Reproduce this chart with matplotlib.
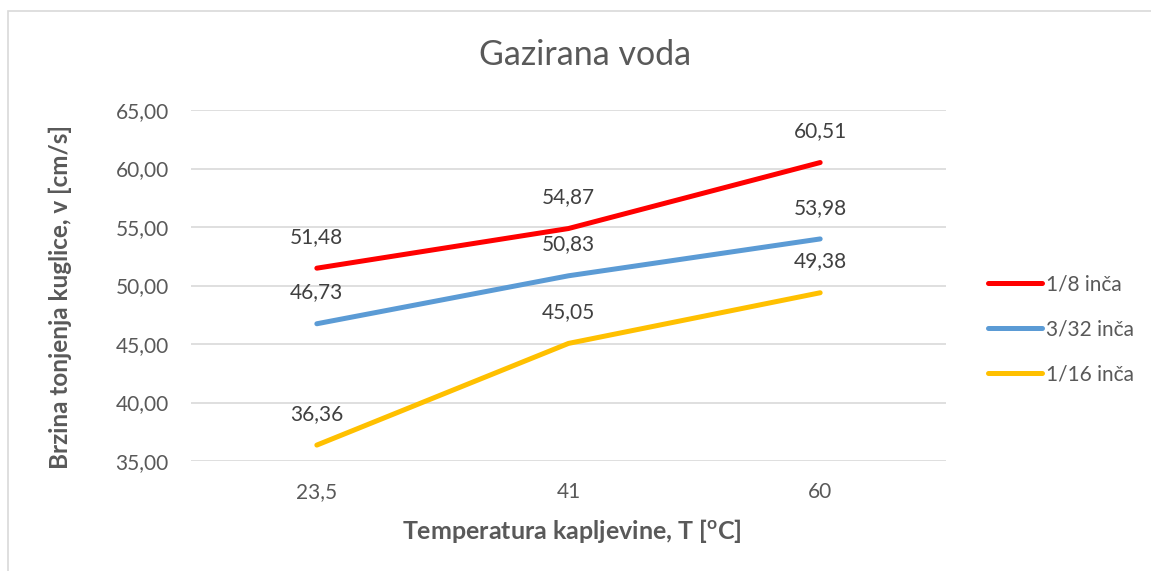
import matplotlib.pyplot as plt
from matplotlib.patches import Rectangle

# podaci s grafa
temperature = ["23,5", "41", "60"]
v_18 = [51.48, 54.87, 60.51]
v_332 = [46.73, 50.83, 53.98]
v_116 = [36.36, 45.05, 49.38]
serije = ["1/8 inča", "3/32 inča", "1/16 inča"]
boje = ["#FF0000", "#5B9BD5", "#FFC000"]
y_ticks = [35, 40, 45, 50, 55, 60, 65]

plt.rcParams['font.family'] = ['Lato', 'DejaVu Sans']
siva = "#595959"

fig = plt.figure(figsize=(11.51, 5.71), dpi=100)
# okvir grafa
fig.patches.append(Rectangle((8 / 1151, -0.05), 1.1, (571 - 11) / 571 + 0.05,
                             transform=fig.transFigure, fill=False,
                             edgecolor="#D9D9D9", linewidth=1.2))

ax = fig.add_axes([191 / 1151, 110 / 571, 755 / 1151, 351 / 571])
x = range(len(temperature))
for vals, name, c in zip([v_18, v_332, v_116], serije, boje):
    ax.plot(x, vals, color=c, linewidth=3.6, solid_capstyle='round', label=name, zorder=3)
    for xi, v in zip(x, vals):
        ax.annotate(f"{v:.2f}".replace('.', ','), (xi, v), xytext=(0, 22.5),
                    textcoords='offset points', ha='center', va='center',
                    fontsize=15, color="#404040")

ax.set_xlim(-0.5, 2.5)
ax.set_ylim(35, 65)
ax.set_xticks(list(x))
ax.set_xticklabels(temperature)
ax.set_yticks(y_ticks)
ax.set_yticklabels([f"{t:.2f}".replace('.', ',') for t in y_ticks])
ax.tick_params(length=0, labelsize=15, labelcolor=siva)
ax.tick_params(axis='y', pad=16)
ax.tick_params(axis='x', pad=15)
ax.grid(axis='y', color="#D9D9D9", linewidth=1.2)
ax.set_axisbelow(True)
for s in ax.spines.values():
    s.set_visible(False)

fig.text(585 / 1151, 1 - 55 / 571, "Gazirana voda", ha='center', va='center',
         fontsize=24.5, color=siva)
fig.text(60 / 1151, 1 - 297 / 571, "Brzina tonjenja kuglice, v [cm/s]", rotation=90,
         ha='center', va='center', fontsize=17.5, fontweight='bold', color=siva)
fig.text(572 / 1151, 1 - 531 / 571, "Temperatura kapljevine, T [$\\mathregular{^o}$C]",
         ha='center', va='center', fontsize=18, fontweight='bold', color=siva)

leg = fig.legend(loc='center left', bbox_to_anchor=(969 / 1151, 1 - 329 / 571),
                 frameon=False, fontsize=15, handlelength=2.6, handletextpad=0.2,
                 labelspacing=1.2)
for t in leg.get_texts():
    t.set_color(siva)

fig.savefig("out.png", dpi=100)
